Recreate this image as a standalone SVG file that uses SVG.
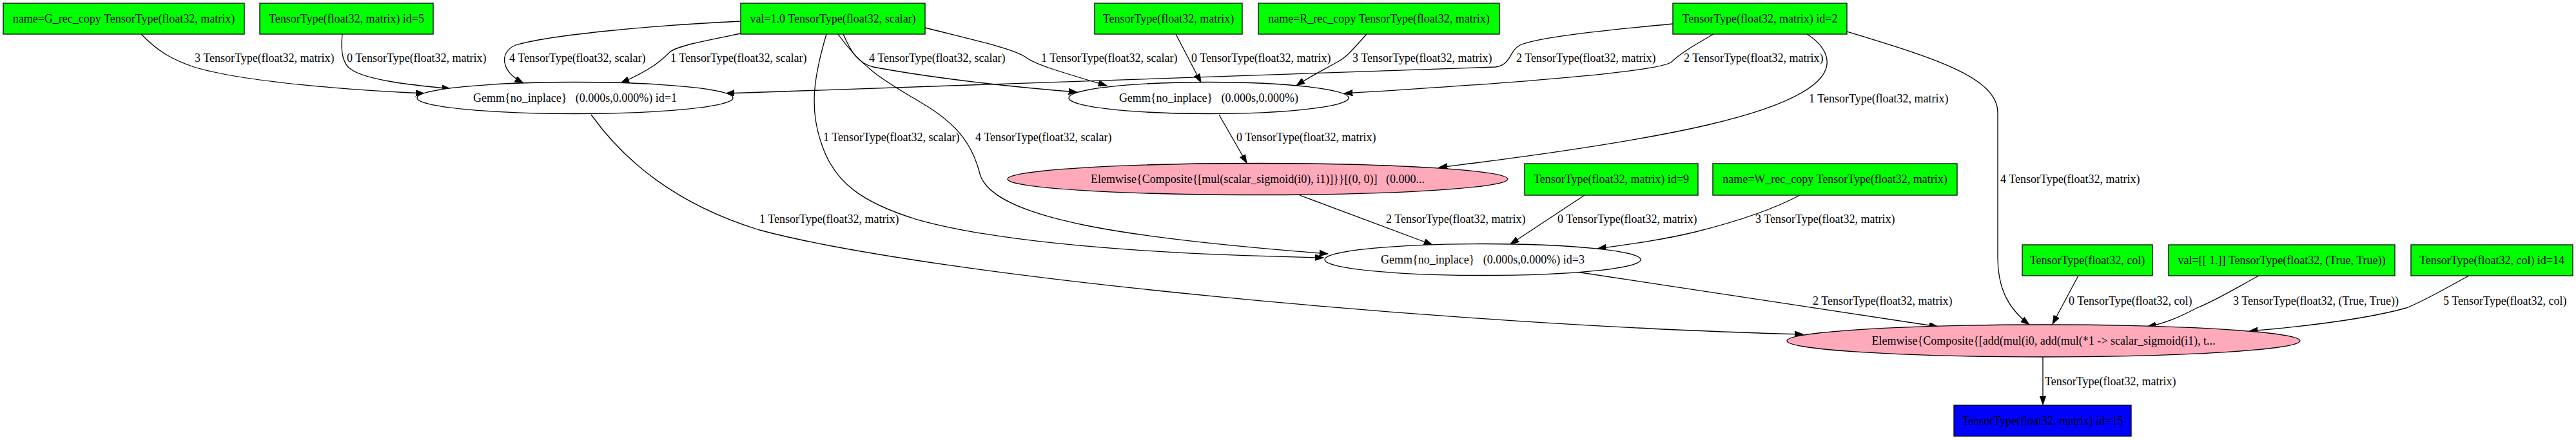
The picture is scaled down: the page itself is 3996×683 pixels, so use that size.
<svg xmlns="http://www.w3.org/2000/svg" width="3996" height="683" viewBox="0 0 3996 683">
<style>
text{font-family:"Liberation Serif","Times New Roman",serif;font-size:18px;fill:#000}
.nt{text-anchor:middle}
.lb{text-anchor:start}
.in rect{fill:#00FF00;stroke:#000;stroke-width:1.3}
.ap ellipse{fill:#FFFFFF;stroke:#000;stroke-width:1.3}
.ap.ew ellipse{fill:#FFAABB}
.out rect{fill:#0000FF;stroke:#000;stroke-width:1.3}
#edges path{fill:none;stroke:#000;stroke-width:1.3;marker-end:url(#ah)}
</style>
<defs>
<marker id="ah" markerUnits="userSpaceOnUse" markerWidth="14" markerHeight="10" refX="13.3" refY="4.7" orient="auto">
<path d="M0,0 L13.3,4.7 L0,9.4 z" fill="#000" stroke="#000" stroke-width="1"/>
</marker>
</defs>
<rect width="3996" height="683" fill="#FFFFFF"/>

<g id="edges">
<path d="M219,53 C245,80 268,93 301,104 C380,128 550,140 658,145"/>
<path d="M531,53 C528,80 532,100 545,108 C570,125 640,132 699,138"/>
<path d="M1149,33 C1000,40 850,55 800,70 C775,80 775,110 812,129"/>
<path d="M1149,52 C1100,62 1055,70 1040,80 C1025,95 1010,108 963,129"/>
<path d="M2595,37 C2480,48 2385,58 2358,70 C2340,80 2345,100 2320,104 L1126,145"/>
<path d="M2658,53 C2625,72 2605,84 2592,97 C2560,115 2250,135 2085,145"/>
<path d="M1824,53 L1863,128"/>
<path d="M2120,53 C2100,75 2090,88 2075,96 C2050,110 2030,120 2011,133"/>
<path d="M1308,53 C1320,80 1330,98 1355,104 C1450,122 1580,136 1671,143"/>
<path d="M1435,43 C1510,62 1570,75 1590,88 C1605,100 1640,110 1717,133"/>
<path d="M1891,178 L1934,253"/>
<path d="M2803,53 C2830,70 2845,95 2825,120 C2780,175 2600,215 2232,260"/>
<path d="M2865,49 C3000,90 3099,120 3099,175 L3099,400 C3099,440 3110,475 3148,504"/>
<path d="M917,178 C990,280 1090,330 1178,357 C1450,430 2250,505 2797,519"/>
<path d="M1282,53 C1262,120 1255,170 1275,225 C1295,285 1340,315 1420,340 C1560,380 1800,395 2053,400"/>
<path d="M1300,53 C1340,110 1380,130 1430,160 C1490,195 1510,230 1520,270 C1540,340 1750,370 2060,394"/>
<path d="M2016,303 L2222,380"/>
<path d="M2458,303 L2343,379"/>
<path d="M2792,303 C2745,328 2690,345 2630,360 C2580,372 2530,379 2478,386"/>
<path d="M2445,422 L3006,507"/>
<path d="M3224,428 L3184,503"/>
<path d="M3504,428 C3472,445 3440,465 3408,478 C3385,490 3360,502 3331,507"/>
<path d="M3830,428 C3798,445 3765,465 3733,478 C3660,498 3560,508 3489,514"/>
<path d="M3169,554 L3169,628"/>
<g id="edge-labels">
<text class="lb" x="302" y="96">3 TensorType(float32, matrix)</text>
<text class="lb" x="538" y="96">0 TensorType(float32, matrix)</text>
<text class="lb" x="790" y="96">4 TensorType(float32, scalar)</text>
<text class="lb" x="1040" y="96">1 TensorType(float32, scalar)</text>
<text class="lb" x="1348" y="96">4 TensorType(float32, scalar)</text>
<text class="lb" x="1615" y="96">1 TensorType(float32, scalar)</text>
<text class="lb" x="1848" y="96">0 TensorType(float32, matrix)</text>
<text class="lb" x="2098" y="96">3 TensorType(float32, matrix)</text>
<text class="lb" x="2352" y="96">2 TensorType(float32, matrix)</text>
<text class="lb" x="2612" y="96">2 TensorType(float32, matrix)</text>
<text class="lb" x="2806" y="159">1 TensorType(float32, matrix)</text>
<text class="lb" x="1277" y="219">1 TensorType(float32, scalar)</text>
<text class="lb" x="1513" y="219">4 TensorType(float32, scalar)</text>
<text class="lb" x="1918" y="219">0 TensorType(float32, matrix)</text>
<text class="lb" x="3103" y="284">4 TensorType(float32, matrix)</text>
<text class="lb" x="1178" y="346">1 TensorType(float32, matrix)</text>
<text class="lb" x="2150" y="346">2 TensorType(float32, matrix)</text>
<text class="lb" x="2416" y="346">0 TensorType(float32, matrix)</text>
<text class="lb" x="2723" y="346">3 TensorType(float32, matrix)</text>
<text class="lb" x="2812" y="473">2 TensorType(float32, matrix)</text>
<text class="lb" x="3209" y="473">0 TensorType(float32, col)</text>
<text class="lb" x="3464" y="473">3 TensorType(float32, (True, True))</text>
<text class="lb" x="3790" y="473">5 TensorType(float32, col)</text>
<text class="lb" x="3172" y="598">TensorType(float32, matrix)</text>
</g>
</g>

<g id="n_G_rec_copy" class="in"><rect x="5" y="5" width="374" height="48"/><text class="nt" x="192" y="35">name=G_rec_copy TensorType(float32, matrix)</text></g>
<g id="n_id5" class="in"><rect x="403" y="5" width="269" height="48"/><text class="nt" x="537.5" y="35">TensorType(float32, matrix) id=5</text></g>
<g id="n_val1" class="in"><rect x="1149" y="5" width="286" height="48"/><text class="nt" x="1292" y="35">val=1.0 TensorType(float32, scalar)</text></g>
<g id="n_T" class="in"><rect x="1698" y="5" width="229" height="48"/><text class="nt" x="1812.5" y="35">TensorType(float32, matrix)</text></g>
<g id="n_R_rec_copy" class="in"><rect x="1952" y="5" width="374" height="48"/><text class="nt" x="2139" y="35">name=R_rec_copy TensorType(float32, matrix)</text></g>
<g id="n_id2" class="in"><rect x="2595" y="5" width="270" height="48"/><text class="nt" x="2730" y="35">TensorType(float32, matrix) id=2</text></g>

<g id="gemm1" class="ap"><ellipse cx="892" cy="152" rx="245" ry="24.5"/><text class="nt" x="892" y="158" xml:space="preserve">Gemm{no_inplace}   (0.000s,0.000%) id=1</text></g>
<g id="gemm2" class="ap"><ellipse cx="1875" cy="152" rx="217" ry="24.5"/><text class="nt" x="1875" y="158" xml:space="preserve">Gemm{no_inplace}   (0.000s,0.000%)</text></g>

<g id="elemwise1" class="ap ew"><ellipse cx="1951" cy="278" rx="388" ry="24.5"/><text class="nt" x="1951" y="284" xml:space="preserve">Elemwise{Composite{[mul(scalar_sigmoid(i0), i1)]}}[(0, 0)]   (0.000...</text></g>
<g id="n_id9" class="in"><rect x="2365" y="254" width="269" height="49"/><text class="nt" x="2499.5" y="284">TensorType(float32, matrix) id=9</text></g>
<g id="n_W_rec_copy" class="in"><rect x="2657" y="254" width="379" height="49"/><text class="nt" x="2846.5" y="284">name=W_rec_copy TensorType(float32, matrix)</text></g>

<g id="gemm3" class="ap"><ellipse cx="2300" cy="403" rx="245" ry="24.5"/><text class="nt" x="2300" y="409" xml:space="preserve">Gemm{no_inplace}   (0.000s,0.000%) id=3</text></g>
<g id="n_col" class="in"><rect x="3137" y="380" width="202" height="48"/><text class="nt" x="3238" y="410">TensorType(float32, col)</text></g>
<g id="n_ones" class="in"><rect x="3364" y="380" width="351" height="48"/><text class="nt" x="3539.5" y="410">val=[[ 1.]] TensorType(float32, (True, True))</text></g>
<g id="n_id14" class="in"><rect x="3740" y="380" width="251" height="48"/><text class="nt" x="3865.5" y="410">TensorType(float32, col) id=14</text></g>

<g id="elemwise2" class="ap ew"><ellipse cx="3170" cy="529" rx="398" ry="25"/><text class="nt" x="3170" y="535">Elemwise{Composite{[add(mul(i0, add(mul(*1 -&gt; scalar_sigmoid(i1), t...</text></g>

<g id="n_out15" class="out"><rect x="3031" y="629" width="275" height="48"/><text class="nt" x="3168.5" y="659">TensorType(float32, matrix) id=15</text></g>
</svg>
